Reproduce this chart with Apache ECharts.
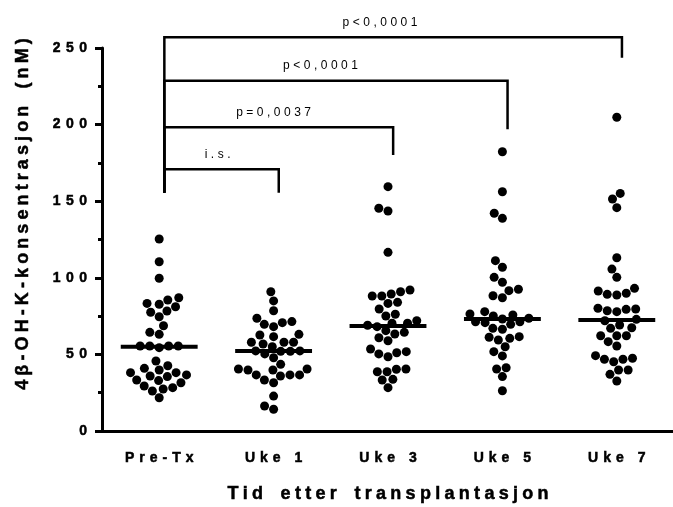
<!DOCTYPE html>
<html>
<head>
<meta charset="utf-8">
<script src="https://cdn.jsdelivr.net/npm/echarts@6/dist/echarts.min.js"></script>
<style>
  html, body { margin: 0; padding: 0; background: #fff; }
  #chart { width: 673px; height: 507px; }
</style>
</head>
<body>
<div id="chart"></div>
<script>
// Time points after transplantation
const categories = ['Pre-Tx', 'Uke 1', 'Uke 3', 'Uke 5', 'Uke 7'];

// 4β-OH-cholesterol concentrations (nM) per patient at each time point
const preTx = [125.3, 110.5, 99.7, 87.0, 81.1, 83.3, 85.5, 82.7, 77.5, 78.3, 74.6, 68.7,
  63.1, 64.4, 55.5, 55.5, 54.4, 55.5, 55.5, 45.7, 40.9, 42.6, 38.1, 36.6, 35.5, 32.9,
  31.5, 33.3, 35.9, 38.1, 39.8, 29.4, 27.4, 26.1, 28.3, 21.7];
const uke1 = [90.9, 84.9, 78.5, 73.6, 68.1, 70.7, 71.4, 69.6, 62.7, 61.6, 63.1, 57.9,
  57.9, 55.0, 56.8, 57.9, 52.0, 52.3, 52.0, 52.3, 50.3, 47.8, 43.5, 39.8, 36.6, 35.9,
  40.5, 40.5, 36.6, 36.6, 39.8, 31.5, 33.3, 22.8, 16.3, 14.2];
const uke3 = [159.5, 143.6, 145.4, 116.6, 90.9, 88.1, 88.1, 89.4, 92.0, 83.3, 84.0, 79.6,
  76.2, 75.1, 72.0, 70.3, 68.1, 69.0, 70.3, 64.4, 65.5, 60.9, 63.3, 58.9, 53.5, 51.1,
  48.5, 50.3, 51.8, 40.5, 38.7, 38.7, 40.3, 33.7, 33.3, 28.3];
const uke5 = [182.3, 156.2, 142.1, 138.8, 111.2, 106.9, 100.3, 97.1, 91.6, 92.5, 87.0, 88.3,
  77.9, 76.4, 75.1, 73.1, 71.3, 69.6, 70.7, 71.3, 73.6, 75.7, 67.0, 66.4, 61.6, 60.5,
  59.4, 61.2, 55.0, 51.8, 49.0, 40.5, 41.3, 35.5, 26.3];
const uke7 = [204.8, 155.1, 151.4, 145.8, 113.1, 105.7, 100.3, 91.4, 89.2, 88.8, 89.9, 93.1,
  80.1, 79.4, 77.9, 78.5, 79.6, 72.0, 72.9, 67.4, 67.0, 69.2, 62.2, 62.2, 62.2, 55.5,
  58.3, 47.5, 46.8, 45.2, 46.8, 49.2, 39.8, 37.0, 39.8, 32.6];
const groups = [preTx, uke1, uke3, uke5, uke7];

// Y axis range and tick step
const yMin = 0, yMax = 250, yStep = 50;

// Pairwise comparisons against baseline: bracket height, right-leg end, label
const brackets = [
  { from: 0, to: 4, top: 257.0, end: 243.7, label: 'p<0,0001', labelAt: 1.93 },
  { from: 0, to: 3, top: 228.7, end: 196.9, label: 'p<0,0001', labelAt: 1.41 },
  { from: 0, to: 2, top: 198.2, end: 180.2, label: 'p=0,0037', labelAt: 1.00 },
  { from: 0, to: 1, top: 170.8, end: 155.5, label: 'i.s.', labelAt: 0.51 }
];
const bracketBase = 155.5;

const FONT = '"Liberation Sans", Arial, Helvetica, sans-serif';

// Letter-spaced text: every glyph is its own rich token, separated by fixed-width spacers
function spaced(str, wordKey) {
  return Array.from(str)
    .map(ch => ch === ' ' ? '{' + (wordKey || 'c') + '| }' : '{c|' + ch + '}')
    .join('{g| }');
}
// Rich styles for chart text (axis labels / names)
function richStyle(size, weight, gap, word, heavy) {
  const c = { fontSize: size, fontWeight: weight, fontFamily: FONT, color: '#000' };
  if (heavy) { c.textBorderColor = '#000'; c.textBorderWidth = heavy; }
  return {
    c: c,
    g: { width: gap, fontSize: size, fontFamily: FONT },
    w: { width: word, fontSize: size, fontFamily: FONT }
  };
}
// Rich styles for graphic / custom text elements (native text properties)
function richNative(size, weight, gap, word, heavy) {
  const c = { fontSize: size, fontWeight: weight, fontFamily: FONT, fill: '#000' };
  if (heavy) { c.stroke = '#000'; c.lineWidth = heavy; }
  return {
    c: c,
    g: { width: gap, fontSize: size, fontFamily: FONT },
    w: { width: word, fontSize: size, fontFamily: FONT }
  };
}

function median(arr) {
  const s = arr.slice().sort((a, b) => a - b);
  const n = s.length;
  return n % 2 ? s[(n - 1) / 2] : (s[n / 2 - 1] + s[n / 2]) / 2;
}

// Beeswarm offsets (pixels) so that dots of one group do not overlap
function swarm(values, pxPerUnit, d) {
  const order = values.map((v, i) => i).sort((a, b) => values[a] - values[b]);
  const placed = [];
  const xs = new Array(values.length);
  order.forEach(i => {
    const y = values[i] * pxPerUnit;
    const blocked = [];
    placed.forEach(p => {
      const dy = Math.abs(p.y - y);
      if (dy < d) {
        const dx = Math.sqrt(d * d - dy * dy);
        blocked.push([p.x - dx, p.x + dx]);
      }
    });
    const cands = [0];
    blocked.forEach(b => cands.push(b[0], b[1]));
    cands.sort((a, b) => Math.abs(a) - Math.abs(b) || a - b);
    let x = 0;
    for (const c of cands) {
      if (blocked.every(b => c <= b[0] + 1e-6 || c >= b[1] - 1e-6)) { x = c; break; }
    }
    placed.push({ x, y });
    xs[i] = x;
  });
  return xs;
}

const chart = echarts.init(document.getElementById('chart'), null, { renderer: 'canvas' });

const baseOption = {
  animation: false,
  backgroundColor: '#fff',
  grid: { left: 102, right: -1, top: 48, bottom: 76, containLabel: false, outerBoundsMode: 'none' },
  xAxis: [
    {
      type: 'category',
      data: categories,
      boundaryGap: true,
      axisLine: { onZero: false, lineStyle: { color: '#000', width: 3 } },
      axisTick: { alignWithLabel: true, length: 8, lineStyle: { color: '#000', width: 3 } },
      axisLabel: {
        interval: 0, margin: 20, color: '#000', fontSize: 14, fontWeight: 'bold', fontFamily: FONT,
        formatter: v => spaced(v),
        rich: richStyle(14, 'bold', 5, 4, 0.5)
      },
      name: spaced('Tid etter transplantasjon', 'w'),
      nameLocation: 'middle',
      nameGap: 54,
      nameTextStyle: {
        color: '#000', fontSize: 18, fontWeight: 'bold', fontFamily: FONT,
        rich: richStyle(18, 'bold', 4.3, 9, 0.5)
      },
      splitLine: { show: false }
    },
    { type: 'value', show: false, min: -0.5, max: 4.5, gridIndex: 0 }
  ],
  yAxis: {
    type: 'value',
    min: yMin, max: yMax, interval: yStep,
    axisLine: { show: true, onZero: false, lineStyle: { color: '#000', width: 3 } },
    axisTick: { show: true, length: 7, lineStyle: { color: '#000', width: 3 } },
    minorTick: { show: true, splitNumber: 2, length: 4, lineStyle: { color: '#000', width: 3 } },
    splitLine: { show: false },
    axisLabel: {
      margin: 15, color: '#000', fontSize: 14, fontWeight: 'bold', fontFamily: FONT,
      formatter: v => spaced(String(v)),
      rich: richStyle(14, 'bold', 5.5, 4, 0.5)
    }
  },
  graphic: [{
    type: 'text',
    x: 23, y: 214,
    rotation: Math.PI / 2,
    style: {
      text: spaced('4β-OH-K-konsentrasjon (nM)', 'w'),
      rich: richNative(18, 'bold', 4.1, 9, 0.5),
      fontSize: 18, fontWeight: 'bold', fontFamily: FONT, fill: '#000',
      align: 'center', verticalAlign: 'middle'
    }
  }],
  series: []
};

chart.setOption(baseOption);

// Pixel scales of the plotting area, used for the dot layout
const pxPerUnit = Math.abs(chart.convertToPixel({ yAxisIndex: 0 }, 0) - chart.convertToPixel({ yAxisIndex: 0 }, 1));
const pxPerCat = Math.abs(chart.convertToPixel({ xAxisIndex: 1 }, 1) - chart.convertToPixel({ xAxisIndex: 1 }, 0));

const dotSize = 9;
const scatterData = [];
groups.forEach((vals, gi) => {
  const offs = swarm(vals, pxPerUnit, 9.6);
  vals.forEach((v, k) => scatterData.push([gi + offs[k] / pxPerCat, v]));
});

const medianData = groups.map((g, i) => [i, median(g)]);
const halfWidth = 0.336;
const nudge = 0.045;

chart.setOption({
  series: [
    {
      type: 'scatter',
      xAxisIndex: 1, yAxisIndex: 0,
      symbol: 'circle', symbolSize: dotSize,
      itemStyle: { color: '#000', opacity: 1 },
      data: scatterData,
      z: 2
    },
    {
      type: 'custom',
      xAxisIndex: 1, yAxisIndex: 0,
      clip: false,
      data: medianData,
      renderItem: (params, api) => {
        const i = api.value(0), m = api.value(1);
        const a = api.coord([i - halfWidth, m]);
        const b = api.coord([i + halfWidth, m]);
        return {
          type: 'line',
          shape: { x1: a[0], y1: a[1], x2: b[0], y2: b[1] },
          style: { stroke: '#000', lineWidth: 4 }
        };
      },
      z: 3
    },
    {
      type: 'custom',
      xAxisIndex: 1, yAxisIndex: 0,
      clip: false,
      data: brackets.map(b => [b.from, b.to, b.top, b.end, b.labelAt]),
      renderItem: (params, api) => {
        const b = brackets[params.dataIndex];
        const from = api.value(0) + nudge, to = api.value(1) + nudge;
        const top = api.value(2), end = api.value(3), at = api.value(4);
        const pts = [
          api.coord([from, bracketBase]),
          api.coord([from, top]),
          api.coord([to, top]),
          api.coord([to, end])
        ];
        const t = api.coord([at, top]);
        return {
          type: 'group',
          children: [
            {
              type: 'polyline',
              shape: { points: pts },
              style: { stroke: '#000', lineWidth: 2.5, fill: null, lineJoin: 'miter' }
            },
            {
              type: 'text',
              x: t[0], y: t[1] - 14.5,
              style: {
                text: spaced(b.label),
                rich: richNative(12, 'normal', 3.5, 3),
                fontSize: 12, fontFamily: FONT, fill: '#000',
                align: 'center', verticalAlign: 'middle'
              }
            }
          ]
        };
      },
      z: 4
    }
  ]
});
</script>
</body>
</html>
